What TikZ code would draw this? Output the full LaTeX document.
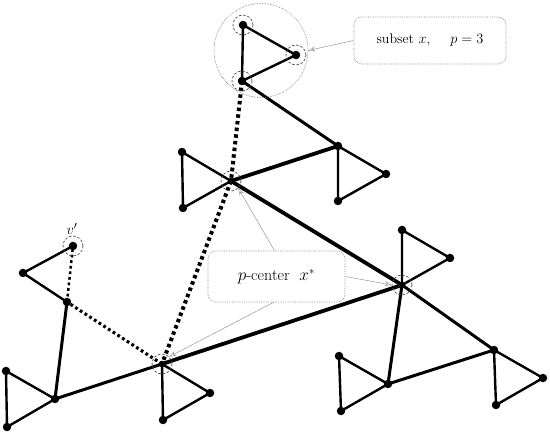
\documentclass[tikz,border=0pt]{standalone}
\usetikzlibrary{arrows.meta}
\begin{document}
\begin{tikzpicture}[x=1pt,y=-1pt,
  vtx/.style={circle,fill=black,inner sep=0pt,minimum size=8.5pt},
  edg/.style={line width=2.4pt},
  edgb/.style={line width=3pt},
  edgc/.style={line width=3.8pt},
  dotb/.style={line width=4pt,dash pattern=on 3.5pt off 3.2pt},
  dots/.style={line width=3.1pt,dash pattern=on 2.8pt off 2.8pt},
  sel/.style={draw=black!70,dashed,dash pattern=on 2.5pt off 1.8pt,line width=0.7pt,circle,minimum size=20pt,inner sep=0pt},
  lbox/.style={draw=black!45,densely dotted,line width=0.7pt,rounded corners=8pt,fill=white,inner sep=0pt},
  pt/.style={-{Stealth[open,length=7pt,width=5pt]},draw=black!40,line width=0.5pt}
]
\useasboundingbox (0,0) rectangle (550,433);
% vertices
\node[vtx] (A1) at (243,25) {};
\node[vtx] (A2) at (296,55) {};
\node[vtx] (A3) at (242,81) {};
\node[vtx] (B) at (338,146) {};
\node[vtx] (B1) at (338,201) {};
\node[vtx] (B2) at (386,174) {};
\node[vtx,minimum size=6.5pt] (C) at (231,181) {};
\node[vtx] (C1) at (182,152) {};
\node[vtx] (C2) at (183,208) {};
\node[vtx,minimum size=6.5pt] (D) at (402,285) {};
\node[vtx] (D1) at (402,230) {};
\node[vtx] (D2) at (450,258) {};
\node[vtx] (E) at (388,384) {};
\node[vtx] (E1) at (339,356) {};
\node[vtx] (E2) at (341,411) {};
\node[vtx] (F) at (494,350) {};
\node[vtx] (F1) at (543,378) {};
\node[vtx] (F2) at (496,405) {};
\node[vtx,minimum size=6.5pt] (G) at (162,364) {};
\node[vtx] (G1) at (163,420) {};
\node[vtx] (G2) at (210,393) {};
\node[vtx] (H) at (55,399) {};
\node[vtx] (H1) at (6,371) {};
\node[vtx] (H2) at (7,427) {};
\node[vtx] (I) at (67,302) {};
\node[vtx] (J) at (23,273) {};
\node[vtx] (V) at (73,246) {};
% triangles
\draw[edg] (A1.center) -- (A2.center) -- (A3.center) -- cycle;
\draw[edg] (B.center) -- (B1.center) -- (B2.center) -- cycle;
\draw[edg] (C.center) -- (C1.center) -- (C2.center) -- cycle;
\draw[edg] (D.center) -- (D1.center) -- (D2.center) -- cycle;
\draw[edg] (E.center) -- (E1.center) -- (E2.center) -- cycle;
\draw[edg] (F.center) -- (F1.center) -- (F2.center) -- cycle;
\draw[edg] (G.center) -- (G1.center) -- (G2.center) -- cycle;
\draw[edg] (H.center) -- (H1.center) -- (H2.center) -- cycle;
\draw[edg] (I.center) -- (J.center) -- (V.center);
% tree edges
\draw[edgb] (A3.center) -- (B.center);
\draw[edgc] (B.center) -- (C.center);
\draw[edgc] (C.center) -- (D.center);
\draw[edgc] (G.center) -- (D.center);
\draw[edgb] (D.center) -- (E.center);
\draw[edgb] (D.center) -- (F.center);
\draw[edgb] (E.center) -- (F.center);
\draw[edgb] (G.center) -- (H.center);
\draw[edgb] (H.center) -- (I.center);
% dotted distances
\draw[dotb] (A3.center) -- (C.center);
\draw[dotb] (C.center) -- (G.center);
\draw[dots] (G.center) -- (I.center);
\draw[dots,line width=2.5pt] (I.center) -- (V.center);
% selection circles
\node[sel] (sA1) at (A1) {};
\node[sel] (sA2) at (A2) {};
\node[sel] (sA3) at (A3) {};
\node[sel] (sV) at (V) {};
\node[sel] (sC) at (C) {};
\node[sel] (sD) at (D) {};
\node[sel] (sG) at (G) {};
\node[circle,draw=black!55,densely dotted,line width=0.6pt,minimum size=94pt,inner sep=0pt] (big) at (261,50.5) {};
% labels
\node (vl) at (72,229) {\fontsize{15}{17}\selectfont $v'$};
\node[lbox,minimum width=152pt,minimum height=47pt] (sub) at (430,40.5) {\fontsize{14}{17}\selectfont subset\ $x$,\hspace{20pt}$p=3$};
\node[lbox,minimum width=137pt,minimum height=51pt] (pc) at (276.5,276.5) {\fontsize{16}{19}\selectfont $p$-center\ \ $x^{*}$};
% pointers
\draw[pt] (sub.west) -- (big.east);
\draw[pt] (pc.north) ++(-2,0) coordinate (pcn) (pcn) -- (sC.south east);
\draw[pt] (pc.east) -- (sD.west);
\draw[pt] (pc.south) ++(-3,0) coordinate (pcs) (pcs) -- (sG.north east);
\end{tikzpicture}
\end{document}
